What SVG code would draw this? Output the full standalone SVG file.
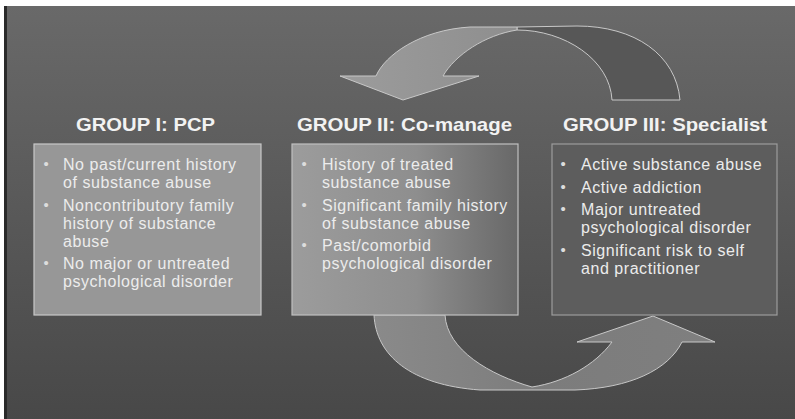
<svg xmlns="http://www.w3.org/2000/svg" width="795" height="419" viewBox="0 0 795 419">
<defs>
<linearGradient id="bg" x1="0" y1="0" x2="0" y2="1">
<stop offset="0" stop-color="#696969"/>
<stop offset="1" stop-color="#484848"/>
</linearGradient>
<linearGradient id="box2g" x1="0" y1="0" x2="1" y2="0">
<stop offset="0" stop-color="#9c9c9c"/>
<stop offset="0.55" stop-color="#8e8e8e"/>
<stop offset="1" stop-color="#686868"/>
</linearGradient>
<linearGradient id="frontg" x1="0" y1="0" x2="1" y2="0">
<stop offset="0" stop-color="#9c9c9c"/>
<stop offset="1" stop-color="#8e8e8e"/>
</linearGradient>
<linearGradient id="botg" x1="0" y1="0" x2="1" y2="0">
<stop offset="0" stop-color="#8a8a8a"/>
<stop offset="0.5" stop-color="#7c7c7c"/>
<stop offset="1" stop-color="#7f7f7f"/>
</linearGradient>
</defs>
<style>
.hdr{font-family:"Liberation Sans",Arial,sans-serif;font-weight:bold;font-size:19px;fill:#f2f2f2}
.body{font-family:"Liberation Sans",Arial,sans-serif;font-size:16px;letter-spacing:0.55px;fill:#ececec}
.bul{font-family:"Liberation Sans",Arial,sans-serif;font-size:15px;fill:#dddddd}
.box{stroke-width:1.2}
.arrow{stroke:#c8c8c8;stroke-width:1}
</style>
<rect x="0" y="0" width="795" height="419" fill="#ffffff"/>
<rect x="4" y="6" width="791" height="413" fill="url(#bg)"/>
<rect x="4" y="6" width="3" height="413" fill="#2a2a2a"/>

<g id="connectors">
<path class="arrow" fill="#575757" d="M 517 30 C 565 30 610 60 612 100 L 680 100 C 676 55 635 26 577 26 L 517 27 Z"/>
<path class="arrow" fill="url(#frontg)" d="M 470 27 L 517 27 L 517 30 C 485 35 455 55 443 76 L 479 76 L 403 100 L 340 76 L 376 76 C 385 55 420 30 470 27 Z"/>
<path class="arrow" fill="url(#botg)" d="M 374 315 C 376 355 410 385 480 390 L 575 390 C 630 388 668 370 682 342 L 715 342 L 653 316 L 577 342 L 612 342 C 595 365 565 382 532 387 C 490 375 447 350 445 315 Z"/>
</g>

<g id="group1">
<text class="hdr" x="76" y="131" textLength="139" lengthAdjust="spacingAndGlyphs">GROUP I: PCP</text>
<rect class="box" x="34" y="144" width="227" height="171" fill="#979797" stroke="#c8c8c8"/>
<text class="bul" x="43.5" y="169">•</text>
<text class="body" x="63" y="170">No past/current history<tspan x="63" dy="18">of substance abuse</tspan></text>
<text class="bul" x="43.5" y="209.5">•</text>
<text class="body" x="63" y="210.5">Noncontributory family<tspan x="63" dy="18">history of substance</tspan><tspan x="63" dy="18">abuse</tspan></text>
<text class="bul" x="43.5" y="268">•</text>
<text class="body" x="63" y="269">No major or untreated<tspan x="63" dy="18">psychological disorder</tspan></text>
</g>

<g id="group2">
<text class="hdr" x="297" y="131" textLength="215" lengthAdjust="spacingAndGlyphs">GROUP II: Co-manage</text>
<rect class="box" x="292" y="144" width="226" height="171" fill="url(#box2g)" stroke="#c0c0c0"/>
<text class="bul" x="301.5" y="169">•</text>
<text class="body" x="322" y="170">History of treated<tspan x="322" dy="18">substance abuse</tspan></text>
<text class="bul" x="301.5" y="209.5">•</text>
<text class="body" x="322" y="210.5">Significant family history<tspan x="322" dy="18">of substance abuse</tspan></text>
<text class="bul" x="301.5" y="250">•</text>
<text class="body" x="322" y="251">Past/comorbid<tspan x="322" dy="18">psychological disorder</tspan></text>
</g>

<g id="group3">
<text class="hdr" x="563" y="131" textLength="204" lengthAdjust="spacingAndGlyphs">GROUP III: Specialist</text>
<rect class="box" x="552" y="144" width="225" height="171" fill="#5d5d5d" stroke="#9c9c9c"/>
<text class="bul" x="560.5" y="169">•</text>
<text class="body" x="581" y="170">Active substance abuse</text>
<text class="bul" x="560.5" y="191.5">•</text>
<text class="body" x="581" y="192.5">Active addiction</text>
<text class="bul" x="560.5" y="214">•</text>
<text class="body" x="581" y="215">Major untreated<tspan x="581" dy="18">psychological disorder</tspan></text>
<text class="bul" x="560.5" y="254.5">•</text>
<text class="body" x="581" y="255.5">Significant risk to self<tspan x="581" dy="18">and practitioner</tspan></text>
</g>
</svg>
